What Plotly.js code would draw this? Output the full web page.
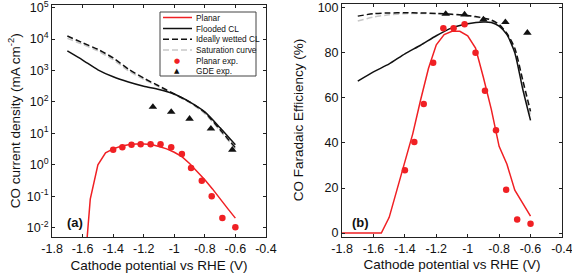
<!DOCTYPE html>
<html>
<head>
<meta charset="utf-8">
<script src="https://cdn.plot.ly/plotly-3.0.1.min.js"></script>
<style>html,body{margin:0;padding:0;background:#fff;}#chart{width:572px;height:278px;}</style>
</head>
<body>
<div id="chart"></div>
<script>
// ---------- Data (panel a: CO current density, mA cm^-2) ----------
const vModel = [-1.7,-1.6,-1.5,-1.4,-1.3,-1.2,-1.1,-1.0,-0.9,-0.8,-0.7,-0.6];
const floodedJ = [4200,2150,1050,630,430,316,250,178,100,48,15,4.3];
const wettedJ = [12500,7600,4700,2500,1100,570,320,178,100,46,13,3.5];
const saturationJ = [10500,6800,4200,2200,980,520,300,170,95,42,12,3.2];

const vPlanarJ = [-1.6,-1.55,-1.5,-1.45,-1.4,-1.35,-1.3,-1.25,-1.2,-1.15,-1.1,-1.05,-1.0,-0.95,-0.9,-0.85,-0.8,-0.75,-0.7,-0.65,-0.6];
const planarJ = [8e-5,0.08,1.0,2.4,3.2,3.9,4.3,4.6,4.6,4.4,3.8,3.2,2.5,1.8,1.1,0.62,0.33,0.17,0.08,0.04,0.02];

const vPlanarExp = [-1.40,-1.34,-1.28,-1.22,-1.155,-1.09,-1.02,-0.95,-0.89,-0.82,-0.755,-0.685,-0.60];
const planarExpJ = [3.0,3.6,4.3,4.5,4.5,4.5,3.6,2.2,0.79,0.31,0.099,0.020,0.0102];

const vGDEExp = [-1.14,-1.02,-0.90,-0.76,-0.62];
const gdeExpJ = [69,48,29,14,3.0];

// ---------- Data (panel b: CO Faradaic efficiency, %) ----------
const vModelFE = [-1.7,-1.6,-1.5,-1.4,-1.3,-1.2,-1.1,-1.0,-0.9,-0.85,-0.8,-0.75,-0.7,-0.65,-0.6];
const floodedFE = [67.4,71.5,75,79.5,83.3,87.5,91,92.8,93.6,93.4,91.8,88,80,64,50];
const wettedFE = [96.2,97.3,97.6,97.7,97.6,97.4,97.0,96.5,95.4,94.5,92.5,88.5,82,68,54];
const saturationFE = [94,95.8,96.8,97.3,97.4,97.3,96.9,96.3,95.2,94.2,92.2,88.2,81,66.5,52];

const vPlanarFE = [-1.8,-1.75,-1.7,-1.65,-1.6,-1.55,-1.5,-1.45,-1.4,-1.35,-1.3,-1.25,-1.2,-1.15,-1.1,-1.05,-1.0,-0.95,-0.9,-0.85,-0.8,-0.75,-0.7,-0.65,-0.6];
const planarFE = [0,0,0,0,0,0,7,19,32,44,59,73,83.5,88,89.5,89.5,87.5,82,69,55,38.5,30.5,19,13,7.5];

const planarExpFE = [27.9,40.4,57.2,75.5,90.8,90.8,92.6,80.0,63.1,45.6,19.2,6.0,4.1];
const gdeExpFE = [97.2,96.9,94.7,93.5,88.8];

// ---------- Tick labels ----------
const xTickVals = [-1.8,-1.6,-1.4,-1.2,-1,-0.8,-0.6,-0.4];
const xTickText = ['-1.8','-1.6','-1.4','-1.2','-1','-0.8','-0.6','-0.4'];
const logTickVals = [1e-2,1e-1,1,10,100,1e3,1e4,1e5];
const logTickText = ['10<sup>-2</sup>','10<sup>-1</sup>','10<sup>0</sup>','10<sup>1</sup>','10<sup>2</sup>','10<sup>3</sup>','10<sup>4</sup>','10<sup>5</sup>'];
const feTickVals = [0,20,40,60,80,100];

const legendNames = ['Planar','Flooded CL','Ideally wetted CL','Saturation curve','Planar exp.','GDE exp.'];

// ---------- Styles ----------
const RED = 'rgb(240,32,36)';
const BLACK = '#111';
const GRAY = 'rgb(200,200,200)';
const FONT = 'Arial, "Liberation Sans", sans-serif';
const W = 572, H = 278;

const sLine = {
  flooded:{color:BLACK,width:1.5,shape:'spline',smoothing:0.6},
  wetted:{color:BLACK,width:1.5,dash:'6px,3px',shape:'spline',smoothing:0.6},
  sat:{color:GRAY,width:1.5,dash:'6px,3px',shape:'spline',smoothing:0.6},
  planar:{color:RED,width:1.5}
};

function tr(x,y,xa,ya,line,marker){
  const t = {x:x,y:y,xaxis:xa,yaxis:ya,showlegend:false,hoverinfo:'skip',cliponaxis:true};
  if(line){t.mode='lines';t.line=line;} else {t.mode='markers';t.marker=marker;}
  return t;
}
const dotM = {color:RED,size:6.5,symbol:'circle'};
const triM = {color:BLACK,size:7.5,symbol:'triangle-up'};

const data = [
  tr(vModel,saturationJ,'x','y',sLine.sat),
  tr(vModel,floodedJ,'x','y',sLine.flooded),
  tr(vModel,wettedJ,'x','y',sLine.wetted),
  tr(vPlanarJ,planarJ,'x','y',sLine.planar),
  tr(vPlanarExp,planarExpJ,'x','y',null,dotM),
  tr(vGDEExp,gdeExpJ,'x','y',null,triM),
  tr(vModelFE,saturationFE,'x2','y2',sLine.sat),
  tr(vModelFE,floodedFE,'x2','y2',sLine.flooded),
  tr(vModelFE,wettedFE,'x2','y2',sLine.wetted),
  tr(vPlanarFE,planarFE,'x2','y2',sLine.planar),
  tr(vPlanarExp,planarExpFE,'x2','y2',null,dotM),
  tr(vGDEExp,gdeExpFE,'x2','y2',null,triM)
];

const px = v => v/W, py = v => 1 - v/H;
const axisCommon = {showgrid:false,zeroline:false,showline:true,linecolor:'#222',linewidth:1,mirror:'ticks',ticks:'inside',ticklen:3,tickcolor:'#222',ticklabeloverflow:'allow',tickfont:{family:FONT,size:12.5,color:'#111'}};
const xCommon = Object.assign({},axisCommon,{range:[-1.8005,-0.3995],tickvals:xTickVals,ticktext:xTickText,title:{text:'Cathode potential vs RHE (V)',font:{family:FONT,size:13.5,color:'#111'},standoff:5}});

const shapes = [];
const annotations = [];
// Manual legend (panel a)
shapes.push({type:'rect',xref:'paper',yref:'paper',x0:px(160),x1:px(256),y0:py(12),y1:py(76),line:{color:'#444',width:1},fillcolor:'white',layer:'above'});
const legY = [17.5,28.5,39.3,50.1,60.9,71.2];
const legLines = [sLine.planar,sLine.flooded,sLine.wetted,sLine.sat];
legLines.forEach((l,i)=>{
  shapes.push({type:'line',xref:'paper',yref:'paper',x0:px(163),x1:px(192),y0:py(legY[i]),y1:py(legY[i]),line:{color:l.color,width:l.width,dash:l.dash||'solid'},layer:'above'});
});
annotations.push({xref:'paper',yref:'paper',x:px(177),y:py(legY[4]),text:'●',showarrow:false,font:{family:'DejaVu Sans',size:7,color:RED},xanchor:'center',yanchor:'middle'});
annotations.push({xref:'paper',yref:'paper',x:px(177),y:py(legY[5]),text:'▲',showarrow:false,font:{family:'DejaVu Sans',size:7,color:BLACK},xanchor:'center',yanchor:'middle'});
legendNames.forEach((n,i)=>{
  annotations.push({xref:'paper',yref:'paper',x:px(194),y:py(legY[i]),text:n,showarrow:false,font:{family:FONT,size:8.3,color:'#111'},xanchor:'left',yanchor:'middle'});
});
// panel labels
annotations.push({xref:'paper',yref:'paper',x:px(75),y:py(222),text:'<b>(a)</b>',showarrow:false,font:{family:FONT,size:13,color:'#111'},xanchor:'center',yanchor:'middle'});
annotations.push({xref:'paper',yref:'paper',x:px(360),y:py(222),text:'<b>(b)</b>',showarrow:false,font:{family:FONT,size:13,color:'#111'},xanchor:'center',yanchor:'middle'});

const layout = {
  width:W,height:H,margin:{l:0,r:0,t:0,b:0},paper_bgcolor:'white',plot_bgcolor:'white',showlegend:false,
  font:{family:FONT,color:'#111'},
  xaxis:Object.assign({},xCommon,{domain:[px(52),px(266)],anchor:'y'}),
  yaxis:Object.assign({},axisCommon,{domain:[py(237),py(4.5)],anchor:'x',type:'log',range:[-2.3,5.1],tickvals:logTickVals,ticktext:logTickText,title:{text:'CO current density (mA cm<sup>-2</sup>)',font:{family:FONT,size:13.5,color:'#111'},standoff:3}}),
  xaxis2:Object.assign({},xCommon,{domain:[px(342),px(562)],anchor:'y2'}),
  yaxis2:Object.assign({},axisCommon,{domain:[py(236.5),py(3.5)],anchor:'x2',range:[-1.5,101.8],tickvals:feTickVals,title:{text:'CO Faradaic Efficiency (%)',font:{family:FONT,size:13.5,color:'#111'},standoff:10}}),
  shapes:shapes,annotations:annotations
};

Plotly.newPlot('chart',data,layout,{staticPlot:true,displayModeBar:false});
</script>
</body>
</html>
